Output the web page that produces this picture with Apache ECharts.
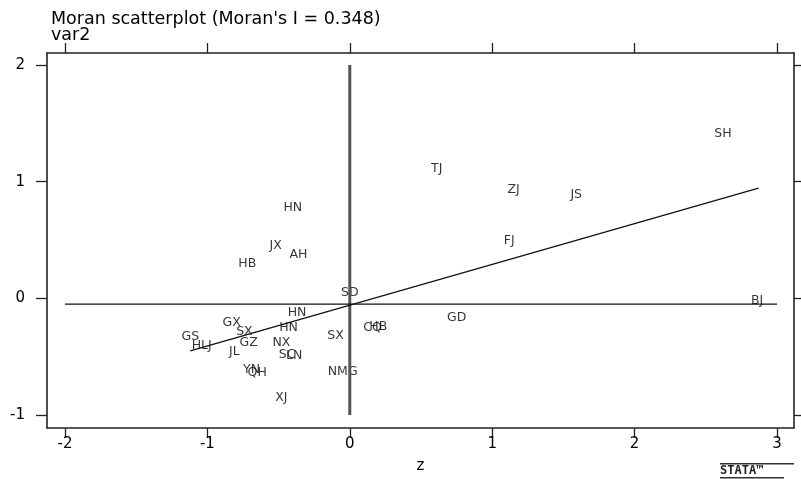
<!DOCTYPE html>
<html>
<head>
<meta charset="utf-8">
<script src="https://cdn.jsdelivr.net/npm/echarts@6/dist/echarts.min.js"></script>
<style>
html, body { margin: 0; padding: 0; background: #fff; }
#MoranChart { width: 801px; height: 479px; }
</style>
</head>
<body>
<div id="MoranChart"></div>
<script>
// 省份简称
var names = ['SH', 'TJ', 'ZJ', 'JS', 'FJ', 'SD', 'BJ', 'GD', 'HB', 'CQ',
	'HN', 'JX', 'AH', 'HB', 'HN', 'GX', 'SX', 'HN', 'GS', 'HLJ',
	'GZ', 'JL', 'NX', 'SC', 'LN', 'YN', 'QH', 'XJ', 'NMG', 'SX'];
// z
var zVals = [2.62, 0.61, 1.15, 1.59, 1.12, 0.00, 2.86, 0.75, 0.20, 0.16,
	-0.40, -0.52, -0.36, -0.72, -0.37, -0.83, -0.74, -0.43, -1.12, -1.04,
	-0.71, -0.81, -0.48, -0.44, -0.39, -0.69, -0.65, -0.48, -0.05, -0.10];
// Wz (var2)
var wzVals = [1.41, 1.11, 0.93, 0.89, 0.49, 0.05, -0.02, -0.17, -0.24, -0.25,
	0.78, 0.45, 0.37, 0.30, -0.12, -0.21, -0.29, -0.25, -0.33, -0.41,
	-0.38, -0.46, -0.38, -0.48, -0.49, -0.61, -0.64, -0.85, -0.63, -0.32];
// 参考线
var fitLine = [[-1.12, -0.45], [2.87, 0.945]];
var hLine = [[-2, -0.05], [3, -0.05]];
var vLine = [[0, -1], [0, 2]];
// 刻度
var xTicks = [-2, -1, 0, 1, 2, 3];
var yTicks = [-1, 0, 1, 2];

var MoranChart = echarts.init(document.getElementById('MoranChart'));

var pts = [];
for (var i = 0; i < names.length; i++) {
	pts.push([zVals[i], wzVals[i], names[i]]);
}

var frameLine = { show: true, onZero: false, lineStyle: { color: '#222', width: 1.6 } };
var tickStyle = { color: '#222', width: 1.3 };
var fontBase = 'DejaVu Sans, Arial, sans-serif';

MoranChart.setOption({
	animation: false,
	title: [
		{
			text: "Moran scatterplot (Moran's I = 0.348)",
			left: 46, top: 5,
			textStyle: { color: '#000', fontSize: 17.5, fontWeight: 'normal', fontFamily: fontBase }
		},
		{
			text: 'var2',
			left: 46, top: 21,
			textStyle: { color: '#000', fontSize: 17.5, fontWeight: 'normal', fontFamily: fontBase }
		}
	],
	grid: { left: 47, right: 7, top: 53, bottom: 51 },
	xAxis: [
		{
			type: 'value', position: 'bottom',
			min: -2.126, max: 3.119,
			name: 'z', nameLocation: 'middle', nameGap: 31,
			nameTextStyle: { color: '#000', fontSize: 15, fontFamily: fontBase },
			axisLine: frameLine,
			axisTick: { show: true, inside: false, length: 10, customValues: xTicks, lineStyle: tickStyle },
			axisLabel: { show: true, customValues: xTicks, margin: 9, color: '#000', fontSize: 15, fontFamily: fontBase },
			splitLine: { show: false }
		},
		{
			type: 'value', position: 'top',
			min: -2.126, max: 3.119,
			axisLine: frameLine,
			axisTick: { show: true, inside: false, length: 10, customValues: xTicks, lineStyle: tickStyle },
			axisLabel: { show: false },
			splitLine: { show: false }
		}
	],
	yAxis: [
		{
			type: 'value', position: 'left',
			min: -1.112, max: 2.103,
			axisLine: frameLine,
			axisTick: { show: true, inside: false, length: 11, customValues: yTicks, lineStyle: tickStyle },
			axisLabel: { show: true, customValues: yTicks, margin: 22, color: '#000', fontSize: 15, fontFamily: fontBase },
			splitLine: { show: false }
		},
		{
			type: 'value', position: 'right',
			min: -1.112, max: 2.103,
			axisLine: frameLine,
			axisTick: { show: true, inside: false, length: 10, customValues: yTicks, lineStyle: tickStyle },
			axisLabel: { show: false },
			splitLine: { show: false }
		}
	],
	series: [
		{
			type: 'line', data: vLine, symbol: 'none', silent: true,
			lineStyle: { color: '#555', width: 3 }
		},
		{
			type: 'line', data: hLine, symbol: 'none', silent: true,
			lineStyle: { color: '#111', width: 1.3 }
		},
		{
			type: 'line', data: fitLine, symbol: 'none', silent: true,
			lineStyle: { color: '#111', width: 1.3 }
		},
		{
			type: 'scatter', data: pts, symbolSize: 1,
			itemStyle: { color: 'rgba(0,0,0,0)' },
			label: {
				show: true, position: 'inside',
				formatter: function (p) { return p.data[2]; },
				color: '#000', fontSize: 12.5, fontFamily: fontBase
			},
			labelLayout: { hideOverlap: false }
		}
	],
	graphic: [
		{ type: 'rect', left: 720, top: 463, shape: { width: 74, height: 1.5 }, style: { fill: '#333' } },
		{ type: 'text', left: 720, top: 465, style: { text: 'STATA™', fill: '#222', font: 'bold 12px DejaVu Sans Mono, monospace' } },
		{ type: 'rect', left: 720, top: 477, shape: { width: 64, height: 1.5 }, style: { fill: '#333' } }
	]
});
</script>
</body>
</html>
